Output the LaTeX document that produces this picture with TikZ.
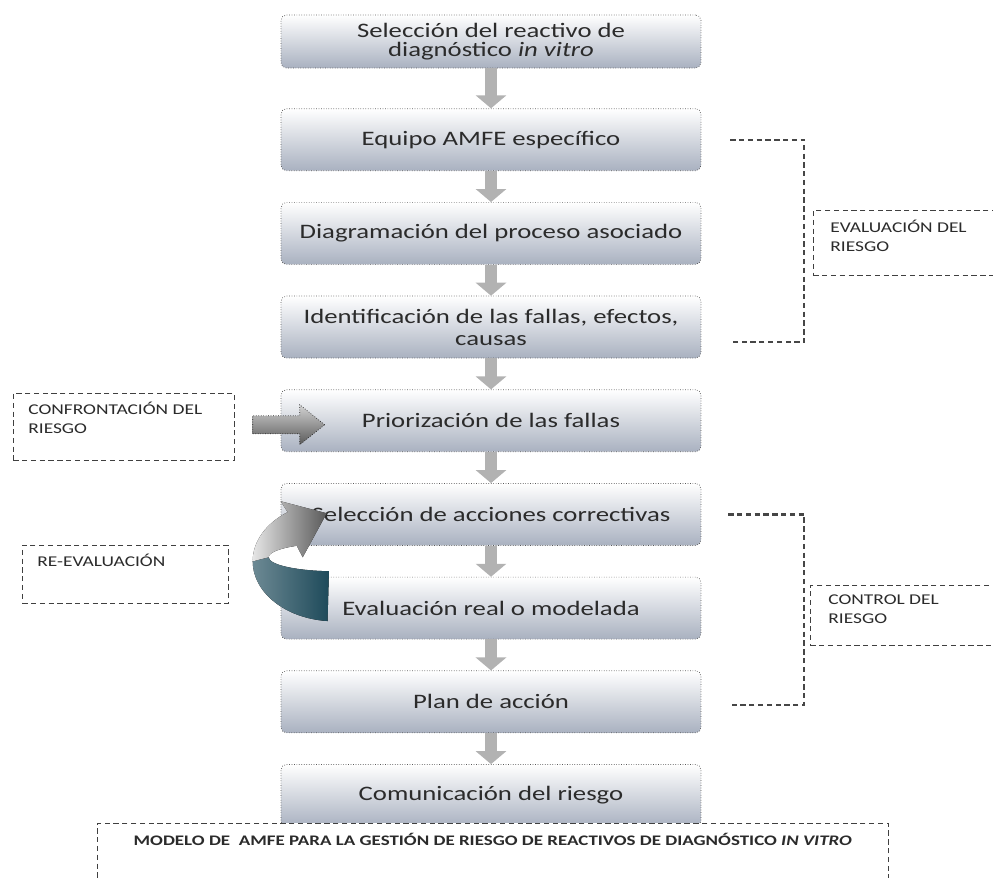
\documentclass[tikz,border=0pt]{standalone}
\usepackage{fontspec}
\setmainfont{Carlito}[FakeStretch=1.3]
\usepackage{tikz}
\usetikzlibrary{arrows.meta,positioning,calc}
\definecolor{boxbot}{HTML}{A9B1C0}
\definecolor{ribbon}{HTML}{1E4A5A}
\definecolor{inkgray}{HTML}{2B2B2B}

\begin{document}
\begin{tikzpicture}[
  x=0.02cm, y=-0.02cm,
  font=\fontsize{11.7}{10.5}\selectfont,
  node distance=0.62cm,
  stepbox/.style={draw=gray!70!black, densely dotted, rounded corners=3pt,
                  top color=white, bottom color=boxbot, text=inkgray,
                  minimum width=8.4cm, minimum height=1.24cm, align=center, inner sep=2pt},
  tag/.style={draw=black!75, densely dashed, thin, fill=white, anchor=north west},
  tagtext/.style={anchor=north west, align=left, inner sep=0pt, text=inkgray,
                  font=\fontsize{8.5}{10.8}\selectfont},
  down/.style={draw=gray!60, line width=7pt, -{Triangle[width=0.6cm, length=0.26cm]}},
  brace/.style={draw=gray!55!black, line width=1.3pt, densely dashed}
]
\clip (0,0) rectangle (993,877);

% central column: AMFE steps
\node[stepbox, minimum height=1.06cm] (b1) at (491,41.5) {Selección del reactivo de\\diagnóstico \textit{in vitro}};
\node[stepbox, below=0.8cm of b1] (b2) {Equipo AMFE específico};
\node[stepbox, below=of b2] (b3) {Diagramación del proceso asociado};
\node[stepbox, below=of b3] (b4) {Identificación de las fallas, efectos,\\[2pt]causas};
\node[stepbox, below=of b4] (b5) {Priorización de las fallas};
\node[stepbox, below=of b5] (b6) {Selección de acciones correctivas};
\node[stepbox, below=of b6] (b7) {Evaluación real o modelada};
\node[stepbox, below=of b7] (b8) {Plan de acción};
\node[stepbox, below=of b8] (b9) {Comunicación del riesgo};

\foreach \a/\b in {b1/b2, b2/b3, b3/b4, b4/b5, b5/b6, b6/b7, b7/b8, b8/b9}
  \draw[down] (\a.south) -- (\b.north);

% brackets on the right
\draw[brace] ($(b2.east)+(29,0)$) -- ++(74,0) |- ($(b4.east)+(29,15)$);
\draw[brace] ($(b6.east)+(27,0)$) -- ++(76,0) |- ($(b8.east)+(27,3)$);

% side labels
\node[tag, minimum width=4cm, minimum height=1.3cm] (eval) at (813,210) {};
\node[tagtext] (evalt) at ($(eval.north west)+(17,10)$) {EVALUACIÓN DEL\\RIESGO};
\node[tag, minimum width=4cm, minimum height=1.2cm] (ctrl) at (810,585) {};
\node[tagtext] (ctrlt) at ($(ctrl.north west)+(18,9)$) {CONTROL DEL\\RIESGO};
\node[tag, minimum width=4.42cm, minimum height=1.34cm] (conf) at (13,393) {};
\node[tagtext] (conft) at ($(conf.north west)+(15,9)$) {CONFRONTACIÓN DEL\\RIESGO};
\node[tag, minimum width=4.12cm, minimum height=1.16cm] (reev) at (22,545) {};
\node[tagtext] (reevt) at ($(reev.north west)+(15,9)$) {RE-EVALUACIÓN};

% caption box
\node[tag, minimum width=15.82cm, minimum height=2cm] (model) at (97,823) {};
\node[anchor=north, inner sep=0pt, text=inkgray, font=\fontsize{8.3}{9}\selectfont\bfseries]
  (modelt) at ($(model.north)+(0,10)$)
  {MODELO DE\ \ AMFE PARA LA GESTIÓN DE RIESGO DE REACTIVOS DE DIAGNÓSTICO \textit{IN VITRO}};

% block arrow into the priorisation step
\coordinate (ct) at ($(b5.west)+(44,4)$);
\draw[gray!30!black, densely dotted, top color=gray!35, bottom color=gray!70!black]
  (ct) -- ++(-25,-20) -- ++(0,11) -- ++(-47,0) -- ++(0,18) -- ++(47,0) -- ++(0,11) -- cycle;

% curved re-evaluation arrow
\coordinate (rc) at ($(b6.south west)!0.5!(b7.north west)+(54,0)$);
\begin{scope}[shift={(rc)}]
  \fill[left color=ribbon!65, right color=ribbon]
    (-7.15,59.77) arc[start angle=95, end angle=180, x radius=82, y radius=60]
    -- (-66,-4) arc[start angle=180, end angle=95, x radius=66, y radius=14] -- cycle;
  \fill[left color=gray!20, right color=gray!70!black]
    (-82,0) arc[start angle=180, end angle=235, x radius=82, y radius=60]
    -- (-54,-60) -- (-8,-48) -- (-32,-4) -- (-37.9,-15.5)
    arc[start angle=235, end angle=180, x radius=66, y radius=14] -- cycle;
\end{scope}
\end{tikzpicture}
\end{document}
